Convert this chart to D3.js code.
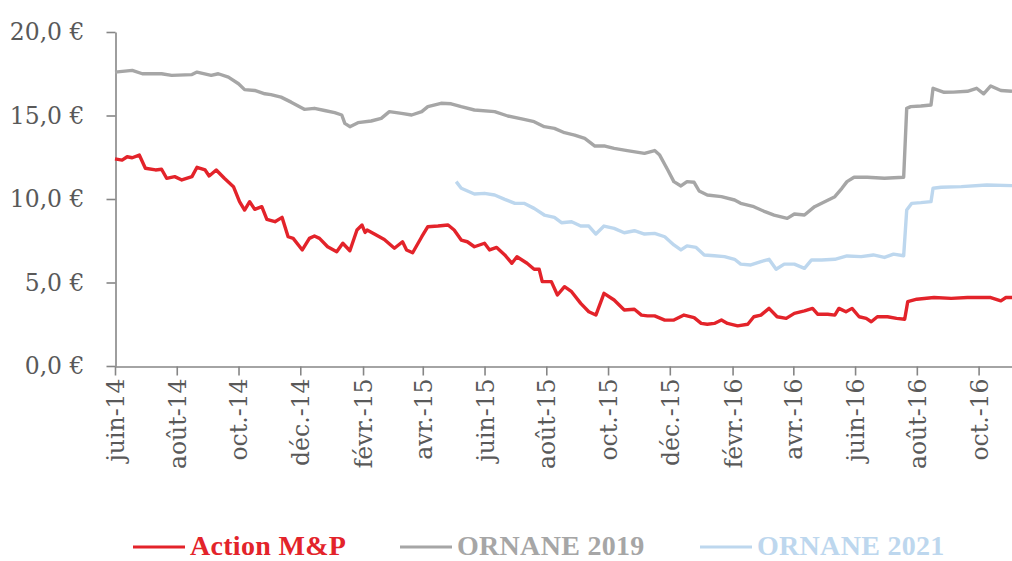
<!DOCTYPE html>
<html>
<head>
<meta charset="utf-8">
<script src="https://cdn.jsdelivr.net/npm/d3@7"></script>
<style>
  body { margin: 0; background: #fff; }
  svg { display: block; }
</style>
</head>
<body>
<svg id="chart" width="1012" height="561"></svg>
<script>
// Cours en euros
var actionDates = ["2014-06-01","2014-06-08","2014-06-13","2014-06-18","2014-06-25","2014-07-01","2014-07-11","2014-07-17","2014-07-22","2014-07-30",
  "2014-08-06","2014-08-16","2014-08-21","2014-08-29","2014-09-02","2014-09-09","2014-09-17","2014-09-26","2014-10-02","2014-10-07",
  "2014-10-12","2014-10-17","2014-10-24","2014-10-29","2014-11-06","2014-11-13","2014-11-19","2014-11-24","2014-12-03","2014-12-10",
  "2014-12-15","2014-12-20","2014-12-28","2015-01-06","2015-01-12","2015-01-19","2015-01-26","2015-01-31","2015-02-03","2015-02-05",
  "2015-02-14","2015-02-22","2015-03-04","2015-03-12","2015-03-16","2015-03-22","2015-03-31","2015-04-06","2015-04-16","2015-04-26",
  "2015-05-02","2015-05-09","2015-05-15","2015-05-22","2015-06-01","2015-06-06","2015-06-13","2015-06-21","2015-06-28","2015-07-03",
  "2015-07-13","2015-07-20","2015-07-25","2015-07-28","2015-08-06","2015-08-12","2015-08-19","2015-08-26","2015-09-04","2015-09-12",
  "2015-09-19","2015-09-27","2015-10-07","2015-10-17","2015-10-27","2015-11-03","2015-11-09","2015-11-16","2015-11-26","2015-12-05",
  "2015-12-15","2015-12-25","2016-01-01","2016-01-07","2016-01-14","2016-01-21","2016-01-27","2016-02-06","2016-02-16","2016-02-22",
  "2016-02-29","2016-03-08","2016-03-16","2016-03-25","2016-04-02","2016-04-12","2016-04-20","2016-04-25","2016-05-05","2016-05-12",
  "2016-05-16","2016-05-23","2016-05-29","2016-06-05","2016-06-12","2016-06-17","2016-06-23","2016-07-03","2016-07-12","2016-07-20",
  "2016-07-23","2016-08-01","2016-08-18","2016-09-04","2016-09-20","2016-10-13","2016-10-23","2016-10-28","2016-11-03"];
var actionValues = [12.4,12.33,12.53,12.47,12.63,11.84,11.74,11.78,11.24,11.34,
  11.14,11.34,11.9,11.74,11.38,11.74,11.24,10.74,9.84,9.34,
  9.84,9.38,9.54,8.78,8.64,8.9,7.74,7.64,6.95,7.64,
  7.78,7.64,7.14,6.84,7.35,6.9,8.14,8.44,8.0,8.14,
  7.84,7.58,7.05,7.44,6.95,6.78,7.74,8.34,8.38,8.44,
  8.14,7.54,7.44,7.14,7.35,6.95,7.1,6.65,6.15,6.54,
  6.15,5.79,5.79,5.05,5.05,4.25,4.75,4.45,3.75,3.25,
  3.05,4.35,3.95,3.35,3.4,3.05,3.0,3.0,2.75,2.75,
  3.05,2.9,2.55,2.5,2.55,2.75,2.55,2.4,2.5,2.95,
  3.05,3.45,2.95,2.85,3.15,3.3,3.45,3.1,3.1,3.05,
  3.45,3.25,3.45,2.95,2.85,2.65,2.95,2.95,2.85,2.8,
  3.85,4.0,4.1,4.05,4.1,4.1,3.9,4.1,4.1];

var ornane19Dates = ["2014-06-01","2014-06-18","2014-06-28","2014-07-17","2014-07-27","2014-08-16","2014-08-21","2014-09-04","2014-09-11","2014-09-21",
  "2014-10-01","2014-10-07","2014-10-17","2014-10-27","2014-11-02","2014-11-12","2014-11-22","2014-12-05","2014-12-15","2014-12-25",
  "2015-01-04","2015-01-11","2015-01-14","2015-01-19","2015-01-27","2015-02-09","2015-02-19","2015-02-27","2015-03-11","2015-03-21",
  "2015-03-31","2015-04-06","2015-04-19","2015-04-29","2015-05-09","2015-05-22","2015-06-11","2015-06-24","2015-07-10","2015-07-20",
  "2015-07-30","2015-08-09","2015-08-19","2015-08-29","2015-09-08","2015-09-18","2015-09-28","2015-10-07","2015-10-20","2015-11-06",
  "2015-11-16","2015-11-21","2015-11-29","2015-12-05","2015-12-12","2015-12-18","2015-12-25","2015-12-30","2016-01-07","2016-01-21",
  "2016-02-03","2016-02-09","2016-02-22","2016-03-04","2016-03-13","2016-03-26","2016-04-02","2016-04-12","2016-04-22","2016-05-02",
  "2016-05-12","2016-05-19","2016-05-24","2016-05-31","2016-06-13","2016-06-30","2016-07-19","2016-07-22","2016-07-26","2016-08-05",
  "2016-08-15","2016-08-17","2016-08-28","2016-09-06","2016-09-20","2016-09-29","2016-10-06","2016-10-13","2016-10-23","2016-11-03"];
var ornane19Values = [17.6,17.7,17.5,17.5,17.4,17.45,17.6,17.4,17.5,17.3,
  16.9,16.55,16.5,16.3,16.25,16.1,15.8,15.37,15.43,15.3,
  15.17,15.03,14.53,14.33,14.57,14.67,14.83,15.23,15.13,15.03,
  15.23,15.53,15.73,15.7,15.53,15.33,15.23,14.97,14.77,14.63,
  14.33,14.23,13.97,13.83,13.63,13.17,13.17,13.03,12.9,12.73,
  12.9,12.63,11.74,11.04,10.78,11.04,11.0,10.48,10.24,10.14,
  9.94,9.74,9.54,9.24,9.04,8.84,9.1,9.04,9.54,9.84,
  10.14,10.64,11.04,11.3,11.3,11.24,11.3,15.43,15.53,15.57,
  15.63,16.63,16.39,16.4,16.45,16.63,16.3,16.77,16.5,16.45];

var ornane21Dates = ["2015-05-04","2015-05-09","2015-05-22","2015-06-01","2015-06-11","2015-06-21","2015-07-01","2015-07-10","2015-07-20","2015-07-30",
  "2015-08-09","2015-08-16","2015-08-26","2015-09-04","2015-09-12","2015-09-19","2015-09-27","2015-10-07","2015-10-17","2015-10-27",
  "2015-11-06","2015-11-16","2015-11-26","2015-12-05","2015-12-12","2015-12-18","2015-12-27","2016-01-04","2016-01-14","2016-01-24",
  "2016-02-03","2016-02-09","2016-02-19","2016-02-29","2016-03-08","2016-03-15","2016-03-23","2016-04-02","2016-04-12","2016-04-19",
  "2016-04-29","2016-05-12","2016-05-24","2016-06-07","2016-06-19","2016-06-30","2016-07-09","2016-07-19","2016-07-22","2016-07-27",
  "2016-08-05","2016-08-15","2016-08-17","2016-08-25","2016-09-14","2016-10-09","2016-11-03"];
var ornane21Values = [11.04,10.64,10.3,10.34,10.24,9.98,9.74,9.74,9.44,9.04,
  8.9,8.58,8.64,8.38,8.38,7.9,8.38,8.24,7.98,8.1,
  7.9,7.94,7.74,7.25,6.95,7.19,7.1,6.65,6.6,6.55,
  6.39,6.1,6.05,6.25,6.39,5.79,6.1,6.1,5.85,6.35,
  6.35,6.39,6.59,6.55,6.65,6.5,6.7,6.6,9.34,9.74,
  9.78,9.84,10.64,10.7,10.74,10.84,10.8];

var tickDates = ["2014-06-01","2014-08-01","2014-10-01","2014-12-01","2015-02-01","2015-04-01","2015-06-01","2015-08-01",
  "2015-10-01","2015-12-01","2016-02-01","2016-04-01","2016-06-01","2016-08-01","2016-10-01"];
var tickLabels = ["juin-14","août-14","oct.-14","déc.-14","févr.-15","avr.-15","juin-15","août-15",
  "oct.-15","déc.-15","févr.-16","avr.-16","juin-16","août-16","oct.-16"];
var yTicks = [0, 5, 10, 15, 20];

var seriesNames = ["Action M&P", "ORNANE 2019", "ORNANE 2021"];
var seriesColors = ["#e3232a", "#a6a6a6", "#bdd7ee"];

var parse = d3.timeParse("%Y-%m-%d");
var svg = d3.select("#chart");

var x = d3.scaleTime()
    .domain([parse("2014-06-01"), parse("2016-11-03")])
    .range([115, 1012]);
var y = d3.scaleLinear().domain([0, 20]).range([366, 32]);

// axe Y
var fmt = d3.format(".1f");
var yAxis = svg.append("g")
    .attr("transform", "translate(115.5,0)")
    .call(d3.axisLeft(y).tickValues(yTicks).tickSize(9).tickSizeOuter(0).tickPadding(22)
        .tickFormat(d => fmt(d).replace(".", ",") + " €"));

// axe X
var labelOf = {};
tickDates.forEach((d, i) => labelOf[+parse(d)] = tickLabels[i]);
var xAxis = svg.append("g")
    .attr("transform", "translate(0,366.5)")
    .call(d3.axisBottom(x).tickValues(tickDates.map(parse)).tickSize(9).tickSizeOuter(0)
        .tickFormat(d => labelOf[+d]));
xAxis.selectAll("text")
    .attr("transform", "rotate(-90)")
    .attr("text-anchor", "end")
    .attr("x", -12)
    .attr("y", 0)
    .attr("dy", "0.36em");

[yAxis, xAxis].forEach(g => {
    g.selectAll("path, line").attr("stroke", "#868686").attr("stroke-width", 1.6);
    g.selectAll("text")
        .attr("fill", "#595959")
        .style("font-family", "'DejaVu Serif', serif")
        .style("font-size", "23.5px");
});

// courbes
var line = d3.line().x(d => x(d.date)).y(d => y(d.value));
var allSeries = [
    { dates: ornane19Dates, values: ornane19Values, color: seriesColors[1] },
    { dates: ornane21Dates, values: ornane21Values, color: seriesColors[2] },
    { dates: actionDates, values: actionValues, color: seriesColors[0] }
];
allSeries.forEach(s => {
    var pts = s.dates.map((d, i) => ({ date: parse(d), value: s.values[i] }));
    svg.append("path")
        .datum(pts)
        .attr("d", line)
        .attr("fill", "none")
        .attr("stroke", s.color)
        .attr("stroke-width", 3.4)
        .attr("stroke-linejoin", "round");
});

// légende
var legendX = [133, 400, 700];
var legend = svg.append("g").attr("transform", "translate(0,547)");
seriesNames.forEach((name, i) => {
    legend.append("line")
        .attr("x1", legendX[i]).attr("x2", legendX[i] + 52)
        .attr("y1", 0).attr("y2", 0)
        .attr("stroke", seriesColors[i]).attr("stroke-width", 3);
    legend.append("text")
        .attr("x", legendX[i] + 57)
        .attr("y", 8)
        .attr("fill", seriesColors[i])
        .style("font-family", "'Liberation Serif', serif")
        .style("font-weight", "bold")
        .style("font-size", "28px")
        .style("letter-spacing", "0.3px")
        .text(name);
});
</script>
</body>
</html>
